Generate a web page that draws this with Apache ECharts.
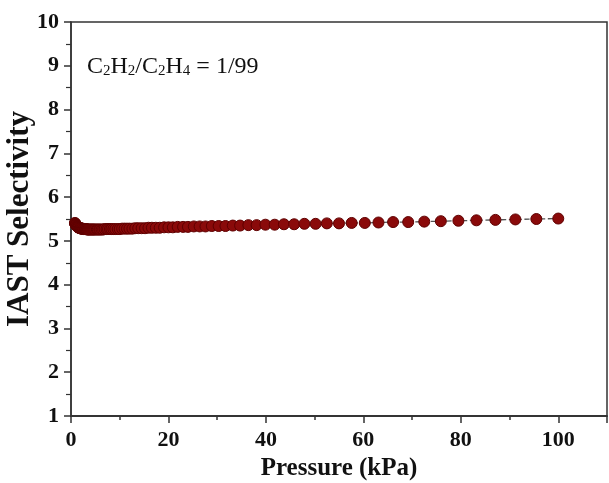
<!DOCTYPE html>
<html>
<head>
<meta charset="utf-8">
<script src="https://cdn.jsdelivr.net/npm/echarts@6/dist/echarts.min.js"></script>
<style>
  html, body { margin: 0; padding: 0; background: #fff; }
  #chart { width: 609px; height: 483px; }
</style>
</head>
<body>
<div id="chart"></div>
<script>
// pressure (kPa) and IAST selectivity
const pressure = [
  0.8, 0.85, 0.9, 0.95, 1.0, 1.05, 1.1, 1.2, 1.25, 1.3, 1.4, 1.45, 1.5, 1.6, 1.7, 1.8, 1.9, 2.0,
  2.1, 2.2, 2.3, 2.4, 2.5, 2.6, 2.8, 2.9, 3.0, 3.2, 3.3, 3.5, 3.6, 3.8, 4.0, 4.2, 4.4, 4.6, 4.8,
  5.0, 5.3, 5.5, 5.8, 6.0, 6.3, 6.6, 6.9, 7.3, 7.6, 8.0, 8.3, 8.7, 9.1, 9.6, 10.0, 10.5, 11.0,
  11.5, 12.0, 12.6, 13.2, 13.8, 14.5, 15.2, 15.9, 16.6, 17.4, 18.2, 19.1, 20.0, 20.9, 21.9, 23.0,
  24.0, 25.2, 26.4, 27.6, 28.9, 30.3, 31.7, 33.2, 34.7, 36.4, 38.1, 39.9, 41.8, 43.7, 45.8, 47.9,
  50.2, 52.5, 55.0, 57.6, 60.3, 63.1, 66.1, 69.2, 72.5, 75.9, 79.5, 83.2, 87.1, 91.2, 95.5, 100
];
const selectivity = [
  5.41, 5.40, 5.39, 5.38, 5.37, 5.36, 5.35, 5.34, 5.33, 5.33, 5.32, 5.31, 5.31, 5.30, 5.30, 5.29, 5.29, 5.29,
  5.28, 5.28, 5.28, 5.28, 5.27, 5.27, 5.27, 5.27, 5.27, 5.27, 5.26, 5.26, 5.26, 5.26, 5.26, 5.26, 5.26, 5.26, 5.26,
  5.26, 5.26, 5.26, 5.26, 5.26, 5.26, 5.26, 5.27, 5.27, 5.27, 5.27, 5.27, 5.27, 5.27, 5.27, 5.27, 5.28, 5.28,
  5.28, 5.28, 5.28, 5.29, 5.29, 5.29, 5.29, 5.30, 5.30, 5.30, 5.30, 5.31, 5.31, 5.31, 5.32, 5.32,
  5.32, 5.33, 5.33, 5.33, 5.34, 5.34, 5.34, 5.35, 5.35, 5.36, 5.36, 5.37, 5.37, 5.38, 5.38, 5.39,
  5.39, 5.40, 5.40, 5.41, 5.41, 5.42, 5.43, 5.43, 5.44, 5.45, 5.46, 5.47, 5.48, 5.49, 5.50, 5.51
];
const xTickLabels = [0, 20, 40, 60, 80, 100];

const chart = echarts.init(document.getElementById('chart'));
const serif = '"Liberation Serif", "Times New Roman", serif';
const axisColor = '#333';

const option = {
  animation: false,
  grid: {
    left: 71, right: 2, top: 22, bottom: 67,
    outerBoundsMode: 'none',
    containLabel: false,
    show: true, borderColor: axisColor, borderWidth: 1.5, backgroundColor: 'transparent'
  },
  xAxis: [{
    // minor ticks, every 10 kPa
    type: 'value',
    min: 0, max: 110, interval: 10,
    axisLine: { show: true, lineStyle: { color: axisColor, width: 1.5 } },
    axisTick: { show: true, inside: false, length: 4, lineStyle: { color: axisColor, width: 1.5 } },
    axisLabel: { show: false },
    splitLine: { show: false }
  }, {
    // major ticks + labels
    type: 'value',
    position: 'bottom',
    min: 0, max: 110, interval: 20,
    name: 'Pressure (kPa)',
    nameLocation: 'middle',
    nameGap: 40,
    nameMoveOverlap: false,
    nameTextStyle: { fontFamily: serif, fontWeight: 'bold', fontSize: 25, color: '#111' },
    axisLine: { show: true, lineStyle: { color: axisColor, width: 1.5 } },
    axisTick: { show: true, inside: false, length: 7, lineStyle: { color: axisColor, width: 1.5 } },
    axisLabel: {
      margin: 13,
      fontFamily: serif, fontWeight: 'bold', fontSize: 22, color: '#111',
      formatter: v => xTickLabels.includes(v) ? String(v) : ''
    },
    splitLine: { show: false }
  }],
  yAxis: {
    type: 'value',
    min: 1, max: 10, interval: 1,
    name: 'IAST Selectivity',
    nameLocation: 'middle',
    nameGap: 36,
    nameMoveOverlap: false,
    nameTextStyle: { fontFamily: serif, fontWeight: 'bold', fontSize: 31, color: '#111' },
    axisLine: { show: true, lineStyle: { color: axisColor, width: 1.5 } },
    axisTick: { show: true, inside: false, length: 7, lineStyle: { color: axisColor, width: 1.5 } },
    minorTick: { show: true, splitNumber: 2, length: 5, lineStyle: { color: axisColor, width: 1.2 } },
    axisLabel: { margin: 12, fontFamily: serif, fontWeight: 'bold', fontSize: 22, color: '#111' },
    splitLine: { show: false }
  },
  graphic: [{
    type: 'text',
    left: 87,
    top: 52,
    style: {
      text: '{n|C}{s|2}{n|H}{s|2}{n|/C}{s|2}{n|H}{s|4}{n| = 1/99}',
      rich: {
        n: { fontFamily: serif, fontSize: 24, lineHeight: 24, verticalAlign: 'top', fill: '#111' },
        s: { fontFamily: serif, fontSize: 15, lineHeight: 15, verticalAlign: 'bottom', padding: [12, 0, 0, 0], fill: '#111' }
      }
    }
  }],
  series: [{
    type: 'line',
    xAxisIndex: 0,
    data: pressure.map((p, i) => [p, selectivity[i]]),
    symbol: 'circle',
    symbolSize: 11,
    itemStyle: { color: '#8a0a0a', borderColor: '#5e0000', borderWidth: 1 },
    lineStyle: { color: '#555', width: 1.3, type: 'dashed' }
  }]
};

chart.setOption(option);
window.addEventListener('resize', function () {
  chart.resize();
});
</script>
</body>
</html>
